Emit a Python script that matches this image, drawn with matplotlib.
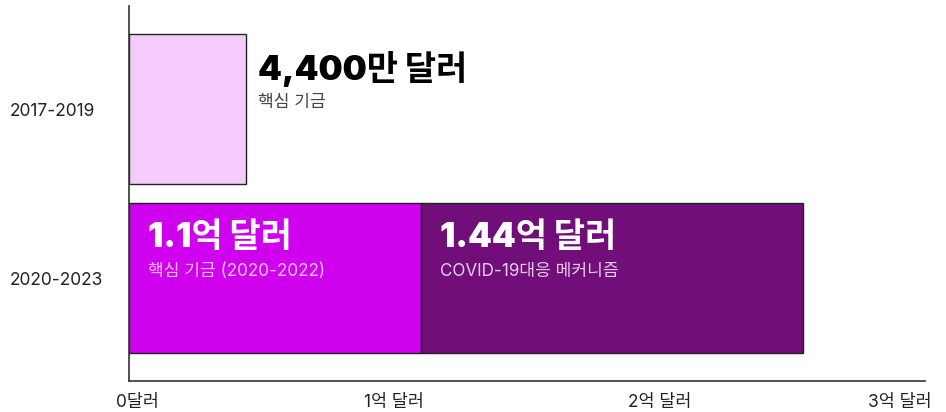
import matplotlib
matplotlib.use("Agg")
import matplotlib.pyplot as plt
import matplotlib.transforms as mtransforms

plt.rcParams['font.family'] = ['Inter', 'Noto Sans CJK KR', 'DejaVu Sans']

periods = ["2017-2019", "2020-2023"]
core_2017 = 0.44          # 100M USD
core_2020 = 1.10
covid_2020 = 1.44
xticks = [0, 1, 2, 3]
xtick_labels = ["0달러", "1억 달러", "2억 달러", "3억 달러"]
big_labels = ["4,400만 달러", "1.1억 달러", "1.44억 달러"]
sub_labels = ["핵심 기금", "핵심 기금 (2020-2022)", "COVID-19대응 메커니즘"]

c_light = "#f5cbfb"
c_mag = "#cf00ee"
c_dark = "#720e7a"

fig = plt.figure(figsize=(9.46, 4.12), dpi=100)
ax = fig.add_axes([129/946, 1-381/412, (925-129)/946, (381-6)/412])

h = 0.885
ax.barh(0, core_2017, height=h, color=c_light, edgecolor="#222222", linewidth=1)
ax.barh(1, core_2020, height=h, color=c_mag, edgecolor="#222222", linewidth=1)
ax.barh(1, covid_2020, left=core_2020, height=h, color=c_dark, edgecolor="#222222", linewidth=1)

ax.set_xlim(0, 3)
ax.set_ylim(1.605, -0.608)

for s in ["top", "right"]:
    ax.spines[s].set_visible(False)
for s in ["left", "bottom"]:
    ax.spines[s].set_color("#333333")
    ax.spines[s].set_linewidth(1.2)

ax.set_xticks(xticks)
ax.set_xticklabels(xtick_labels, fontsize=12.5, color="#222222")
ax.tick_params(axis="x", length=0, pad=9)
labs = ax.get_xticklabels()
labs[0].set_transform(labs[0].get_transform() + mtransforms.ScaledTranslation(8/100, 0, fig.dpi_scale_trans))
labs[-1].set_transform(labs[-1].get_transform() + mtransforms.ScaledTranslation(-25/100, 0, fig.dpi_scale_trans))

ax.set_yticks([0, 1])
ax.set_yticklabels(periods, fontsize=12.5, color="#222222", ha="left")
ax.tick_params(axis="y", length=0, pad=119*72/100)

top0 = 0 - h/2
top1 = 1 - h/2
specs = [
    (core_2017, top0, 12, big_labels[0], sub_labels[0], "#000000", "#444444"),
    (0, top1, 19, big_labels[1], sub_labels[1], "#ffffff", "#f3c2f8"),
    (core_2020, top1, 19, big_labels[2], sub_labels[2], "#ffffff", "#e6cde8"),
]
for x, yt, dx, big, sub, cb, cs in specs:
    ax.annotate(big, (x, yt), xytext=(dx, -35), textcoords="offset pixels",
                fontsize=24.5, fontweight="black", color=cb, va="center", ha="left")
    ax.annotate(sub, (x, yt), xytext=(dx, -68), textcoords="offset pixels",
                fontsize=12.3, color=cs, va="center", ha="left")

fig.savefig("out.png", dpi=100)
